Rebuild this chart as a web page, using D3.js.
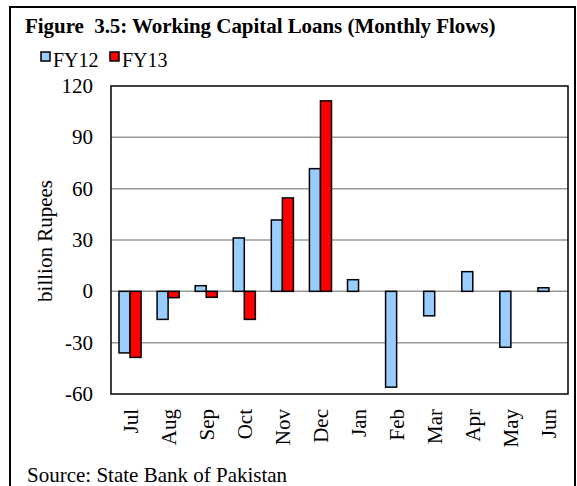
<!DOCTYPE html>
<html>
<head>
<meta charset="utf-8">
<script src="https://cdn.jsdelivr.net/npm/d3@7"></script>
<style>
  body { margin: 0; background: #fff; }
  svg text { font-family: "Liberation Serif", "Times New Roman", serif; fill: #000; white-space: pre; }
</style>
</head>
<body>
<svg id="chart" width="577" height="486"></svg>
<script>
/* категории и ряды */
var months = ['Jul', 'Aug', 'Sep', 'Oct', 'Nov', 'Dec', 'Jan', 'Feb', 'Mar', 'Apr', 'May', 'Jun'];
var seriesNames = ['FY12', 'FY13'];
var fy12 = [-36, -16.4, 3.3, 31.2, 41.7, 71.7, 6.8, -56, -14.3, 11.5, -32.7, 2.1];
var fy13 = [-38.6, -3.7, -3.5, -16.4, 54.6, 111.3, null, null, null, null, null, null];
var yTicks = [-60, -30, 0, 30, 60, 90, 120];
var colors = ['#99ccff', '#ff0000'];

var svg = d3.select('#chart');
var plot = { left: 111, right: 568, top: 86, bottom: 394 };

/* рамка всей фигуры */
svg.append('rect')
    .attr('x', 10).attr('y', 7)
    .attr('width', 565).attr('height', 500)
    .attr('fill', 'none')
    .attr('stroke', '#000')
    .attr('stroke-width', 2);

svg.append('text')
    .attr('x', 25).attr('y', 33)
    .attr('font-size', 21)
    .attr('font-weight', 'bold')
    .attr('letter-spacing', -0.05)
    .text('Figure  3.5: Working Capital Loans (Monthly Flows)');

var x0 = d3.scaleBand()
    .domain(months)
    .range([plot.left, plot.right])
    .paddingInner(0.42)
    .paddingOuter(0.21);

var x1 = d3.scaleBand()
    .domain(seriesNames)
    .range([0, x0.bandwidth()]);

var y = d3.scaleLinear()
    .domain([-60, 120])
    .range([plot.bottom, plot.top]);

/* сетка */
svg.append('g').selectAll('line')
    .data(yTicks.filter(function(t) { return t != -60 && t != 120; }))
    .enter().append('line')
    .attr('x1', plot.left).attr('x2', plot.right)
    .attr('y1', function(d) { return y(d); })
    .attr('y2', function(d) { return y(d); })
    .attr('stroke', '#999')
    .attr('stroke-width', 1.5);

/* подписи оси Y */
svg.append('g').selectAll('text')
    .data(yTicks)
    .enter().append('text')
    .attr('x', 93)
    .attr('y', function(d) { return y(d) + 7; })
    .attr('text-anchor', 'end')
    .attr('font-size', 21)
    .text(function(d) { return d; });

svg.append('text')
    .attr('transform', 'translate(52,241) rotate(-90)')
    .attr('text-anchor', 'middle')
    .attr('font-size', 21)
    .text('billion Rupees');

/* столбцы */
var rows = months.map(function(m, i) {
    return { month: m, vals: [
        { name: 'FY12', v: fy12[i], c: colors[0] },
        { name: 'FY13', v: fy13[i], c: colors[1] }
    ] };
});

var groups = svg.append('g').selectAll('g')
    .data(rows)
    .enter().append('g')
    .attr('transform', function(d) { return 'translate(' + x0(d.month) + ',0)'; });

groups.selectAll('rect')
    .data(function(d) { return d.vals.filter(function(s) { return s.v != null; }); })
    .enter().append('rect')
    .attr('x', function(d) { return x1(d.name); })
    .attr('y', function(d) { return y(Math.max(0, d.v)); })
    .attr('width', x1.bandwidth())
    .attr('height', function(d) { return Math.abs(y(d.v) - y(0)); })
    .attr('fill', function(d) { return d.c; })
    .attr('stroke', '#000')
    .attr('stroke-width', 1.5);

/* рамка области графика */
svg.append('rect')
    .attr('x', plot.left).attr('y', plot.top)
    .attr('width', plot.right - plot.left)
    .attr('height', plot.bottom - plot.top)
    .attr('fill', 'none')
    .attr('stroke', '#000')
    .attr('stroke-width', 1.5);

/* подписи месяцев */
svg.append('g').selectAll('text')
    .data(months)
    .enter().append('text')
    .attr('transform', function(d) {
        return 'translate(' + (x0(d) + x0.bandwidth() / 2 + 7.5) + ',409) rotate(-90)';
    })
    .attr('text-anchor', 'end')
    .attr('font-size', 21)
    .text(function(d) { return d; });

/* легенда */
var legend = svg.append('g').selectAll('g')
    .data(seriesNames)
    .enter().append('g')
    .attr('transform', function(d, i) { return 'translate(' + (41 + i * 69) + ',52)'; });

legend.append('rect')
    .attr('width', 9).attr('height', 9)
    .attr('fill', function(d, i) { return colors[i]; })
    .attr('stroke', '#000')
    .attr('stroke-width', 1.5);

legend.append('text')
    .attr('x', 12).attr('y', 15)
    .attr('font-size', 20)
    .text(function(d) { return d; });

svg.append('text')
    .attr('x', 27).attr('y', 482)
    .attr('font-size', 21)
    .text('Source: State Bank of Pakistan');
</script>
</body>
</html>
